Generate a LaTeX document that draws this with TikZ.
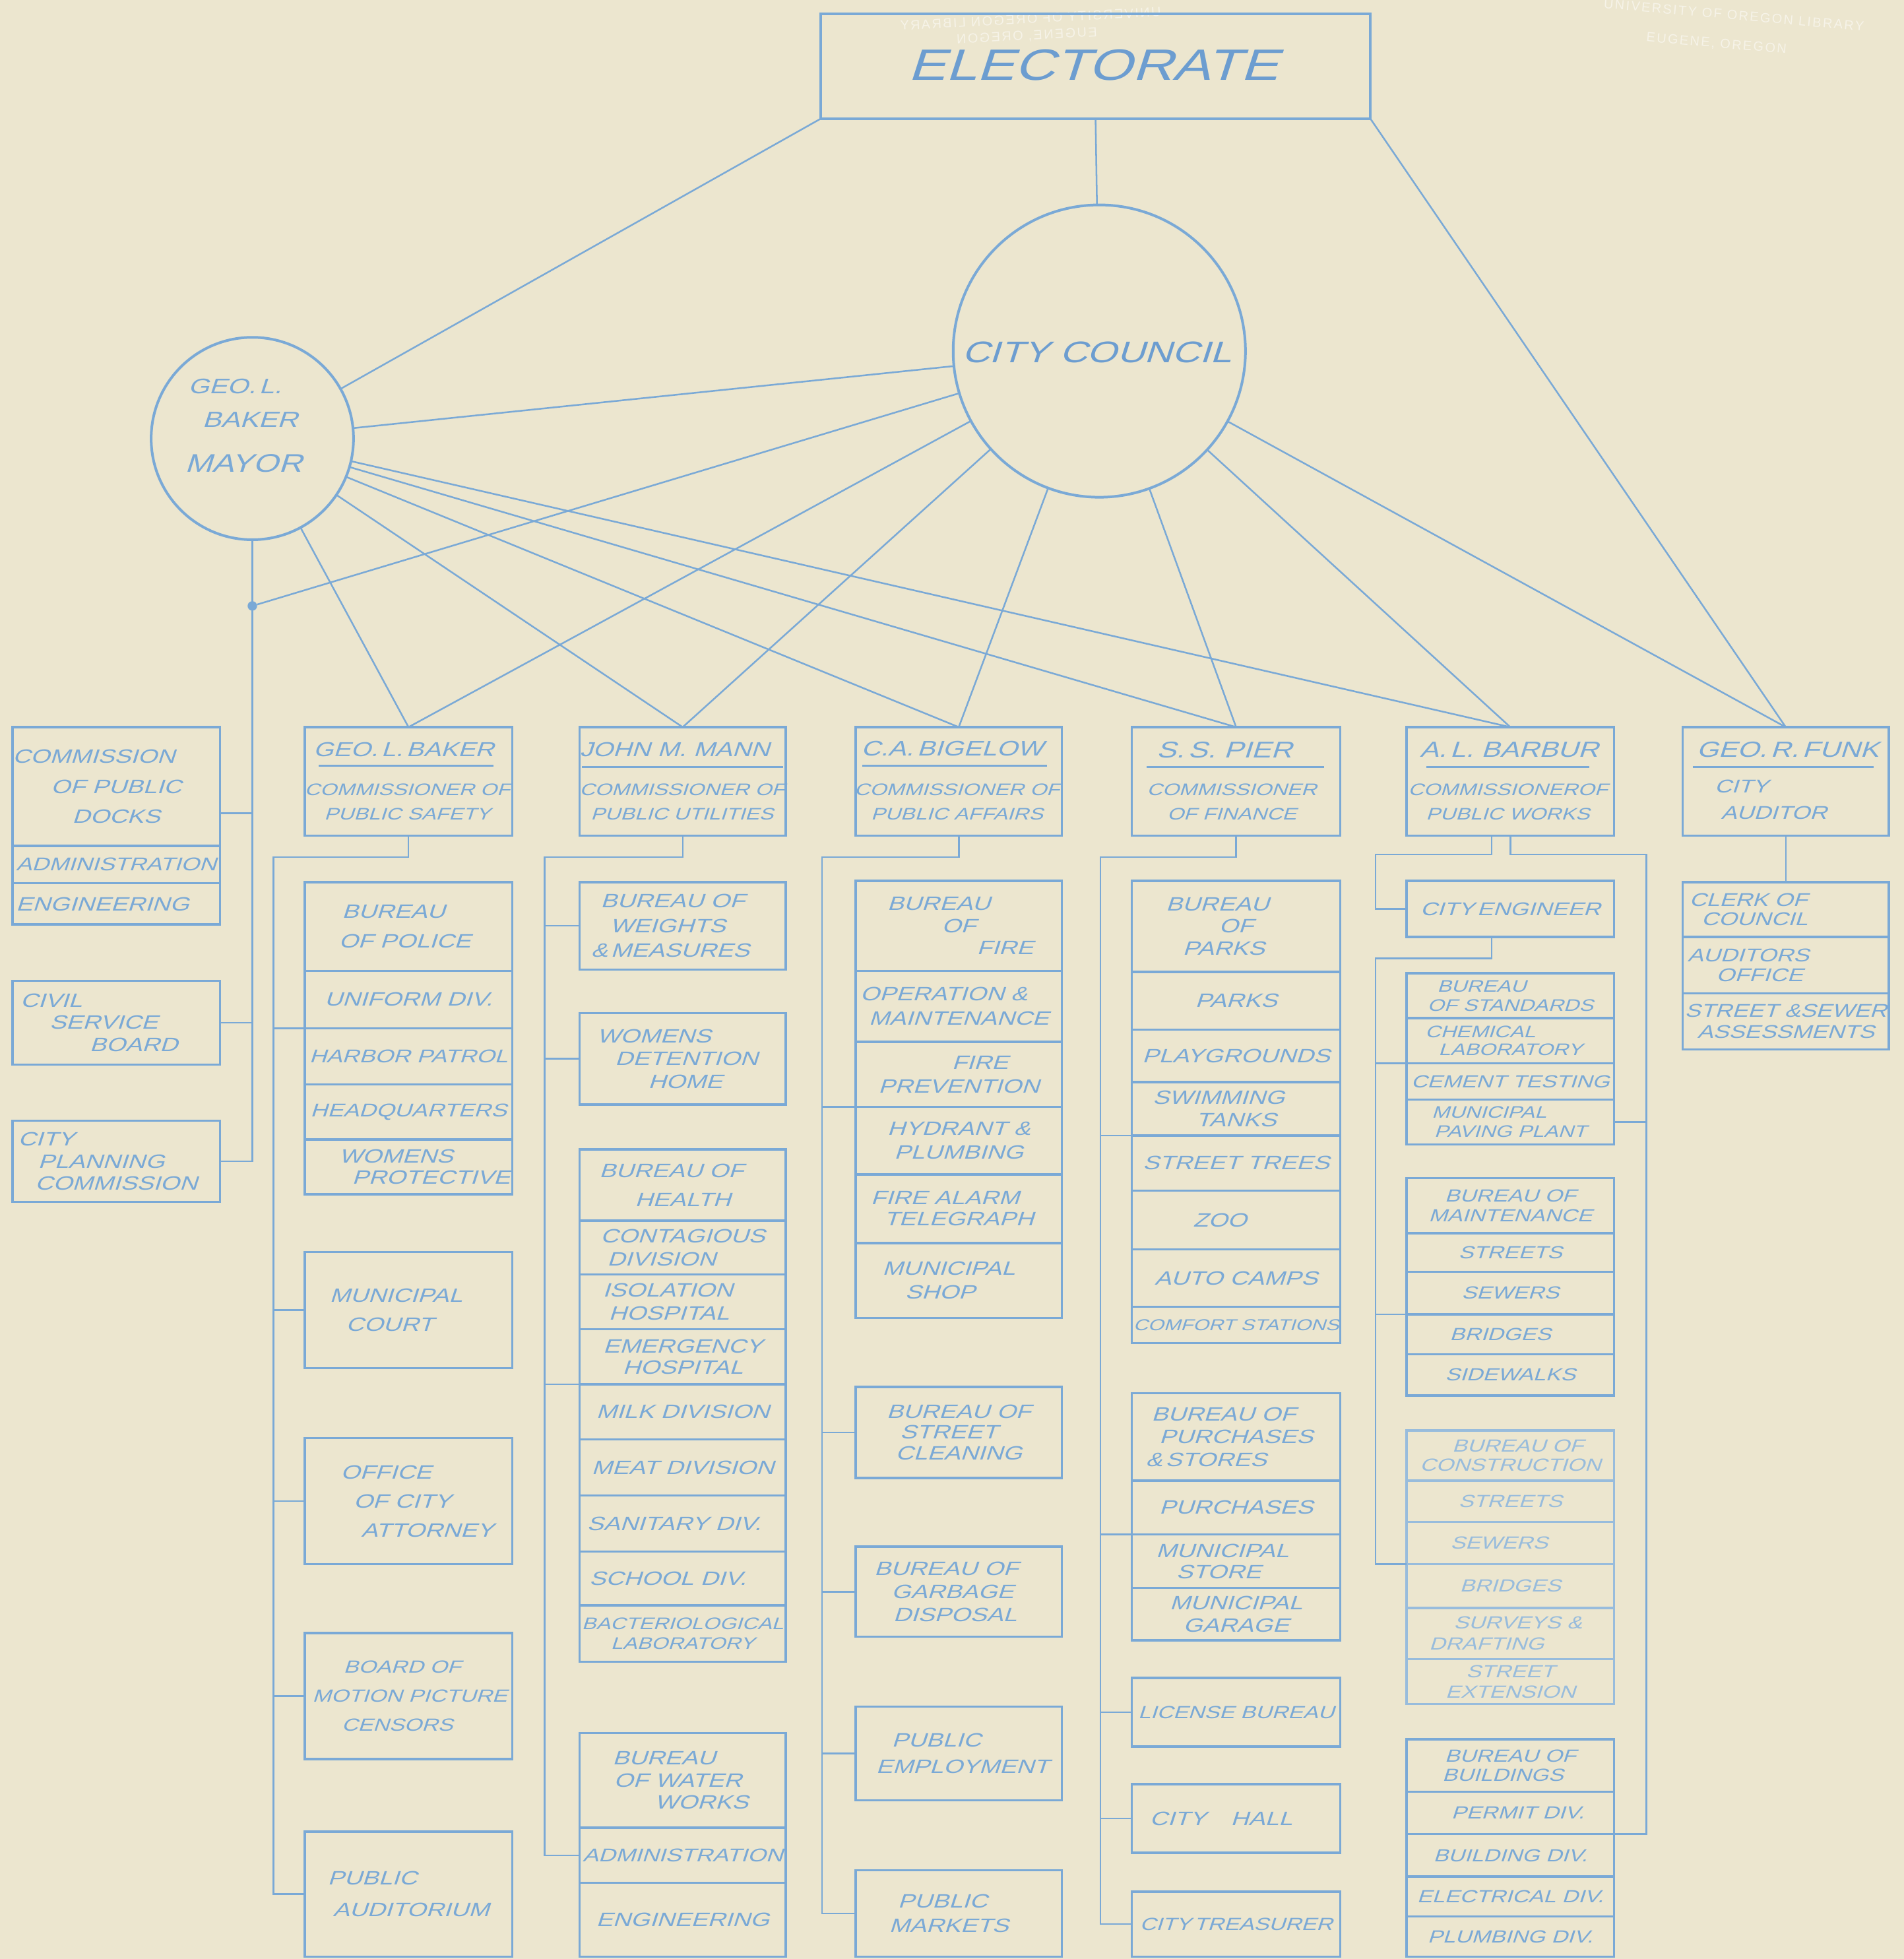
\documentclass[tikz,border=0pt]{standalone}
\usepackage{fontspec}
\newfontfamily\lett{Liberation Sans}[FakeSlant=0.32,FakeStretch=1.28]
\newfontfamily\stampf{Liberation Sans}[LetterSpace=12]
\usetikzlibrary{fit}
\definecolor{paper}{RGB}{236,230,207}
\definecolor{ink}{RGB}{122,169,214}
\definecolor{inkdark}{RGB}{108,157,208}
\definecolor{inkfade}{RGB}{152,188,220}
\definecolor{stamp}{RGB}{246,243,232}
\newcommand\shx[2]{\hspace*{#1mm}#2}
\newcommand\bx[8][22]{%
 \node[rowbox, fit={(#3,#4)(#5,#6)}] (#2) {};
 \node[txt, font=\lett\fontsize{#1pt}{#7pt}\selectfont] (#2t) at (#2.center) {#8};}
\tikzset{
 rowbox/.style={draw=ink, line width=2.6pt, inner sep=0pt, outer sep=0pt},
 txt/.style={text=ink, inner sep=0pt, outer sep=0pt, align=center},
 link/.style={draw=ink, line width=1.9pt},
 uline/.style={draw=ink, line width=2.2pt},
 ring/.style={circle, draw=ink, line width=3pt, inner sep=0pt, outer sep=0pt},
 hname/.style={txt, font=\lett\fontsize{#1pt}{#1pt}\selectfont},
 htitle/.style={txt, font=\lett\fontsize{19pt}{28pt}\selectfont},
 stamptxt/.style={text=stamp, inner sep=0pt, font=\stampf\fontsize{15pt}{15pt}\selectfont},
}
\begin{document}
\begin{tikzpicture}[x=0.05cm,y=-0.05cm]
\fill[paper] (0,0) rectangle (1524,1568);
\useasboundingbox (0,0) rectangle (1524,1568);

% library stamps
\node[stamptxt, rotate=-5] (stampA) at (1388,12) {UNIVERSITY OF OREGON LIBRARY};
\node[stamptxt, rotate=-5] (stampB) at (1374,35) {EUGENE, OREGON};
\node[stamptxt, rotate=3] (stampC) at (825,15) {\reflectbox{UNIVERSITY OF OREGON LIBRARY}};
\node[stamptxt, rotate=3] (stampD) at (822,29) {\reflectbox{EUGENE, OREGON}};

% Electorate
\node[draw=ink, line width=3.4pt, inner sep=0pt, outer sep=0pt, fit={(657,11)(1097,95)}] (elect) {};
\node[txt, text=inkdark, font=\lett\fontsize{50pt}{50pt}\selectfont] (electt) at (875,52) {ELECTORATE};

% City council
\node[ring, minimum size=11.7cm] (council) at (880,281) {};
\node[txt, text=inkdark, font=\lett\fontsize{34pt}{34pt}\selectfont] (councilt) at (878,282) {CITY COUNCIL};

% Mayor
\node[ring, minimum size=8.1cm] (mayor) at (202,351) {};
\node[txt, font=\lett\fontsize{24pt}{24pt}\selectfont] (mayorA) at (188,309) {GEO.\,L.};
\node[txt, font=\lett\fontsize{25pt}{25pt}\selectfont] (mayorB) at (200,336) {BAKER};
\node[txt, font=\lett\fontsize{29pt}{29pt}\selectfont] (mayorC) at (195,371) {MAYOR};
\node[circle, fill=ink, inner sep=0pt, minimum size=0.38cm] (dot) at (202,485) {};

% ---------- left column ----------
\bx{docks1}{10}{582}{176}{677}{34}{\shx{-18}{COMMISSION}\\OF PUBLIC\\DOCKS}
\bx[21]{docks2}{10}{677}{176}{707}{26}{ADMINISTRATION}
\bx{docks3}{10}{707}{176}{740}{26}{\shx{-11}{ENGINEERING}}
\bx{civil}{10}{785}{176}{852}{25}{\shx{-52}{CIVIL}\\\shx{-10}{SERVICE}\\\shx{14}{BOARD}}
\bx{planning}{10}{897}{176}{962}{25}{\shx{-56}{CITY}\\\shx{-12}{PLANNING}\\COMMISSION}

% ---------- headers ----------
\node[rowbox, fit={(244,582)(410,669)}] (bakerH) {};
\node[hname=23] (bakerN) at (323,600) {GEO.\,L.\,BAKER};
\draw[uline] (255,613) -- (395,613);
\node[htitle] (bakerT) at (326,642) {COMMISSIONER OF\\PUBLIC SAFETY};

\node[rowbox, fit={(464,582)(629,669)}] (mannH) {};
\node[hname=23] (mannN) at (540,600) {JOHN M. MANN};
\draw[uline] (466,614) -- (627,614);
\node[htitle] (mannT) at (546,642) {COMMISSIONER OF\\PUBLIC UTILITIES};

\node[rowbox, fit={(685,582)(850,669)}] (bigelowH) {};
\node[hname=24] (bigelowN) at (762,599) {C.A.\,BIGELOW};
\draw[uline] (690,613) -- (838,613);
\node[htitle] (bigelowT) at (766,642) {COMMISSIONER OF\\PUBLIC AFFAIRS};

\node[rowbox, fit={(906,582)(1073,669)}] (pierH) {};
\node[hname=26] (pierN) at (980,600) {S.\,S.\ PIER};
\draw[uline] (918,614) -- (1060,614);
\node[htitle] (pierT) at (986,642) {COMMISSIONER\\OF FINANCE};

\node[rowbox, fit={(1126,582)(1292,669)}] (barburH) {};
\node[hname=25] (barburN) at (1208,600) {A.\,L.\ BARBUR};
\draw[uline] (1142,614) -- (1272,614);
\node[htitle] (barburT) at (1207,642) {COMMISSIONEROF\\PUBLIC WORKS};

\node[rowbox, fit={(1347,582)(1512,669)}] (funkH) {};
\node[hname=25] (funkN) at (1431,600) {GEO.\,R.\,FUNK};
\draw[uline] (1355,614) -- (1500,614);
\node[htitle, font=\lett\fontsize{21pt}{30pt}\selectfont] (funkT) at (1420,640) {\shx{-26}{CITY}\\AUDITOR};

% ---------- Baker (public safety) ----------
\bx{police1}{244}{706}{410}{777}{34}{\shx{-12}{BUREAU}\\\shx{-3}{OF POLICE}}
\bx{police2}{244}{777}{410}{823}{26}{UNIFORM DIV.}
\bx[21]{police3}{244}{823}{410}{868}{26}{HARBOR PATROL}
\bx[21]{police4}{244}{868}{410}{912}{26}{HEADQUARTERS}
\bx{police5}{244}{912}{410}{956}{24}{\shx{-10}{WOMENS}\\\shx{18}{PROTECTIVE}}
\bx{court}{244}{1002}{410}{1095}{33}{\shx{-10}{MUNICIPAL}\\\shx{-15}{COURT}}
\bx{attorney}{244}{1151}{410}{1252}{33}{\shx{-18}{OFFICE}\\\shx{-5}{OF CITY}\\\shx{15}{ATTORNEY}}
\bx[20]{censors}{244}{1307}{410}{1408}{33}{\shx{-5}{BOARD OF}\\\shx{1}{MOTION PICTURE}\\\shx{-9}{CENSORS}}
\bx{auditorium}{244}{1466}{410}{1566}{36}{\shx{-29}{PUBLIC}\\\shx{2}{AUDITORIUM}}

% ---------- Mann (public utilities) ----------
\bx{weights}{464}{706}{629}{776}{28}{\shx{-8}{BUREAU OF}\\\shx{-12}{WEIGHTS}\\\shx{-10}{\&\,MEASURES}}
\bx{detention}{464}{811}{629}{884}{26}{\shx{-23}{WOMENS}\\\shx{3}{DETENTION}\\\shx{2}{HOME}}
\bx{health1}{464}{920}{629}{977}{33}{\shx{-9}{BUREAU OF}\\HEALTH}
\bx{health2}{464}{977}{629}{1020}{26}{CONTAGIOUS\\\shx{-17}{DIVISION}}
\bx{health3}{464}{1020}{629}{1064}{26}{\shx{-12}{ISOLATION}\\\shx{-11}{HOSPITAL}}
\bx{health4}{464}{1064}{629}{1108}{24}{EMERGENCY\\HOSPITAL}
\bx{health5}{464}{1108}{629}{1152}{26}{MILK DIVISION}
\bx{health6}{464}{1152}{629}{1197}{26}{MEAT DIVISION}
\bx{health7}{464}{1197}{629}{1242}{26}{\shx{-7}{SANITARY DIV.}}
\bx{health8}{464}{1242}{629}{1285}{26}{\shx{-12}{SCHOOL DIV.}}
\bx[19]{health9}{464}{1285}{629}{1330}{23}{BACTERIOLOGICAL\\LABORATORY}
\bx{water1}{464}{1387}{629}{1463}{25}{\shx{-15}{BUREAU}\\\shx{-4}{OF WATER}\\\shx{15}{WORKS}}
\bx[21]{water2}{464}{1463}{629}{1507}{26}{ADMINISTRATION}
\bx{water3}{464}{1507}{629}{1566}{26}{ENGINEERING}

% ---------- Bigelow (public affairs) ----------
\bx{fire1}{685}{705}{850}{777}{25}{\shx{-16}{BUREAU}\\OF\\\shx{37}{FIRE}}
\bx{fire2}{685}{777}{850}{834}{28}{\shx{-12}{OPERATION \&}\\MAINTENANCE}
\bx{fire3}{685}{834}{850}{886}{27}{\shx{17}{FIRE}\\PREVENTION}
\bx{fire4}{685}{886}{850}{940}{27}{HYDRANT \&\\PLUMBING}
\bx{fire5}{685}{940}{850}{995}{24}{\shx{-11}{FIRE ALARM}\\TELEGRAPH}
\bx{fire6}{685}{995}{850}{1055}{27}{\shx{-8}{MUNICIPAL}\\\shx{-15}{SHOP}}
\bx{cleaning}{685}{1110}{850}{1183}{24}{BUREAU OF\\\shx{-8}{STREET}\\CLEANING}
\bx{garbage}{685}{1238}{850}{1310}{26}{\shx{-10}{BUREAU OF}\\\shx{-5}{GARBAGE}\\\shx{-3}{DISPOSAL}}
\bx{employment}{685}{1366}{850}{1441}{30}{\shx{-18}{PUBLIC}\\\shx{3}{EMPLOYMENT}}
\bx{markets}{685}{1497}{850}{1566}{28}{\shx{-13}{PUBLIC}\\\shx{-8}{MARKETS}}

% ---------- Pier (finance) ----------
\bx{parks1}{906}{705}{1073}{778}{25}{\shx{-15}{BUREAU}\\OF\\\shx{-10}{PARKS}}
\bx{parks2}{906}{778}{1073}{824}{26}{PARKS}
\bx{parks3}{906}{824}{1073}{866}{26}{PLAYGROUNDS}
\bx{parks4}{906}{866}{1073}{909}{26}{\shx{-14}{SWIMMING}\\TANKS}
\bx{parks5}{906}{909}{1073}{953}{26}{STREET TREES}
\bx{parks6}{906}{953}{1073}{1000}{26}{\shx{-13}{ZOO}}
\bx{parks7}{906}{1000}{1073}{1046}{26}{AUTO CAMPS}
\bx[18]{parks8}{906}{1046}{1073}{1075}{22}{COMFORT STATIONS}
\bx{purch1}{906}{1115}{1073}{1185}{26}{\shx{-10}{BUREAU OF}\\PURCHASES\\\shx{-24}{\&\,STORES}}
\bx{purch2}{906}{1185}{1073}{1228}{26}{PURCHASES}
\bx{purch3}{906}{1228}{1073}{1271}{24}{\shx{-11}{MUNICIPAL}\\\shx{-14}{STORE}}
\bx{purch4}{906}{1271}{1073}{1313}{25}{MUNICIPAL\\GARAGE}
\bx[20]{license}{906}{1343}{1073}{1398}{26}{LICENSE BUREAU}
\bx{cityhall}{906}{1428}{1073}{1483}{26}{\shx{-12}{CITY\hspace{28pt}HALL}}
\bx[20]{treasurer}{906}{1514}{1073}{1566}{26}{CITY\,TREASURER}

% ---------- Barbur (public works) ----------
\bx[21]{cityeng}{1126}{705}{1292}{750}{26}{CITY\,ENGINEER}
\bx[19]{std1}{1126}{779}{1292}{815}{22}{\shx{-23}{BUREAU}\\OF STANDARDS}
\bx[19]{std2}{1126}{815}{1292}{851}{21}{\shx{-24}{CHEMICAL}\\LABORATORY}
\bx[20]{std3}{1126}{851}{1292}{880}{24}{CEMENT TESTING}
\bx[19]{std4}{1126}{880}{1292}{916}{22}{\shx{-17}{MUNICIPAL}\\PAVING PLANT}
\bx[20]{mnt1}{1126}{943}{1292}{987}{22}{BUREAU OF\\MAINTENANCE}
\bx[20]{mnt2}{1126}{987}{1292}{1018}{24}{STREETS}
\bx[20]{mnt3}{1126}{1018}{1292}{1052}{24}{SEWERS}
\bx[20]{mnt4}{1126}{1052}{1292}{1084}{24}{\shx{-8}{BRIDGES}}
\bx[20]{mnt5}{1126}{1084}{1292}{1117}{24}{SIDEWALKS}
\begin{scope}[rowbox/.append style={draw=inkfade}, txt/.append style={text=inkfade}]
\bx[20]{con1}{1126}{1145}{1292}{1185}{22}{\shx{6}{BUREAU OF}\\CONSTRUCTION}
\bx[20]{con2}{1126}{1185}{1292}{1218}{24}{STREETS}
\bx[20]{con3}{1126}{1218}{1292}{1252}{24}{\shx{-9}{SEWERS}}
\bx[20]{con4}{1126}{1252}{1292}{1287}{24}{BRIDGES}
\bx[20]{con5}{1126}{1287}{1292}{1328}{24}{\shx{6}{SURVEYS \&}\\\shx{-19}{DRAFTING}}
\bx[20]{con6}{1126}{1328}{1292}{1364}{23}{STREET\\EXTENSION}
\end{scope}
\bx[20]{bld1}{1126}{1392}{1292}{1434}{22}{BUREAU OF\\\shx{-6}{BUILDINGS}}
\bx[20]{bld2}{1126}{1434}{1292}{1468}{24}{\shx{6}{PERMIT DIV.}}
\bx[20]{bld3}{1126}{1468}{1292}{1502}{24}{BUILDING DIV.}
\bx[20]{bld4}{1126}{1502}{1292}{1534}{24}{ELECTRICAL DIV.}
\bx[20]{bld5}{1126}{1534}{1292}{1566}{24}{PLUMBING DIV.}

% ---------- Funk (auditor) ----------
\bx[21]{clerk}{1347}{706}{1512}{750}{22}{\shx{-30}{CLERK OF}\\\shx{-25}{COUNCIL}}
\bx[21]{audoff}{1347}{750}{1512}{795}{22}{\shx{-30}{AUDITORS}\\\shx{-21}{OFFICE}}
\bx[21]{assess}{1347}{795}{1512}{840}{24}{STREET \&SEWER\\ASSESSMENTS}

% ---------- connectors: top ----------
\draw[link] (elect.south west) -- (mayor);
\draw[link] (elect.south) -- (council);
\draw[link] (elect.south east) -- (funkH.north);
\draw[link] (mayor) -- (council);
\foreach \c in {bakerH,mannH,bigelowH,pierH,barburH} \draw[link] (mayor) -- (\c.north);
\foreach \c in {bakerH,mannH,bigelowH,pierH,barburH,funkH} \draw[link] (council) -- (\c.north);
\draw[link] (council) -- (dot);

% ---------- connectors: mayor's boards ----------
\coordinate (dkb) at ([yshift=-1.075cm]docks1.east);
\draw[link] (mayor.south) -- (mayor.south |- planning.east) -- (planning.east);
\draw[link] (dkb) -- (dkb -| mayor.south);
\draw[link] (civil.east) -- (civil.east -| mayor.south);

% ---------- connectors: Baker ----------
\coordinate (bkx) at (219,686);
\draw[link] (bakerH.south) |- (bkx) -- (bkx |- auditorium.west) -- (auditorium.west);
\foreach \b in {court,attorney,censors} \draw[link] (\b.west) -- (\b.west -| bkx);
\draw[link] (police2.south west) -- (police2.south west -| bkx);

% ---------- connectors: Mann ----------
\coordinate (mnx) at (436,686);
\draw[link] (mannH.south) |- (mnx) -- (mnx |- water2.west) -- (water2.west);
\foreach \b in {weights,detention} \draw[link] (\b.west) -- (\b.west -| mnx);
\draw[link] (health5.north west) -- (health5.north west -| mnx);

% ---------- connectors: Bigelow ----------
\coordinate (bgx) at (658,686);
\draw[link] (bigelowH.south) |- (bgx) -- (bgx |- markets.west) -- (markets.west);
\foreach \b in {cleaning,garbage,employment} \draw[link] (\b.west) -- (\b.west -| bgx);
\draw[link] (fire4.north west) -- (fire4.north west -| bgx);

% ---------- connectors: Pier ----------
\coordinate (pix) at (881,686);
\draw[link] (pierH.south) |- (pix) -- (pix |- treasurer.west) -- (treasurer.west);
\foreach \b in {license,cityhall} \draw[link] (\b.west) -- (\b.west -| pix);
\draw[link] (parks5.north west) -- (parks5.north west -| pix);
\draw[link] (purch3.north west) -- (purch3.north west -| pix);

% ---------- connectors: Barbur ----------
\coordinate (bbs) at ([xshift=-0.75cm]barburH.south);
\coordinate (bbL) at (1101,684);
\draw[link] (bbs) |- (bbL) -- (bbL |- cityeng.west) -- (cityeng.west);
\coordinate (bbR) at (1318,684);
\draw[link] (barburH.south) |- (bbR) -- (bbR |- bld2.south east) -- (bld2.south east);
\draw[link] (std4.east) -- (std4.east -| bbR);
\coordinate (ces) at ([xshift=-0.75cm]cityeng.south);
\coordinate (ceL) at (1101,767);
\draw[link] (ces) |- (ceL) -- (ceL |- con4.north west) -- (con4.north west);
\draw[link] (std3.north west) -- (std3.north west -| ceL);
\draw[link] (mnt4.north west) -- (mnt4.north west -| ceL);

% ---------- connectors: Funk ----------
\draw[link] (funkH.south) -- (clerk.north);
\end{tikzpicture}
\end{document}
